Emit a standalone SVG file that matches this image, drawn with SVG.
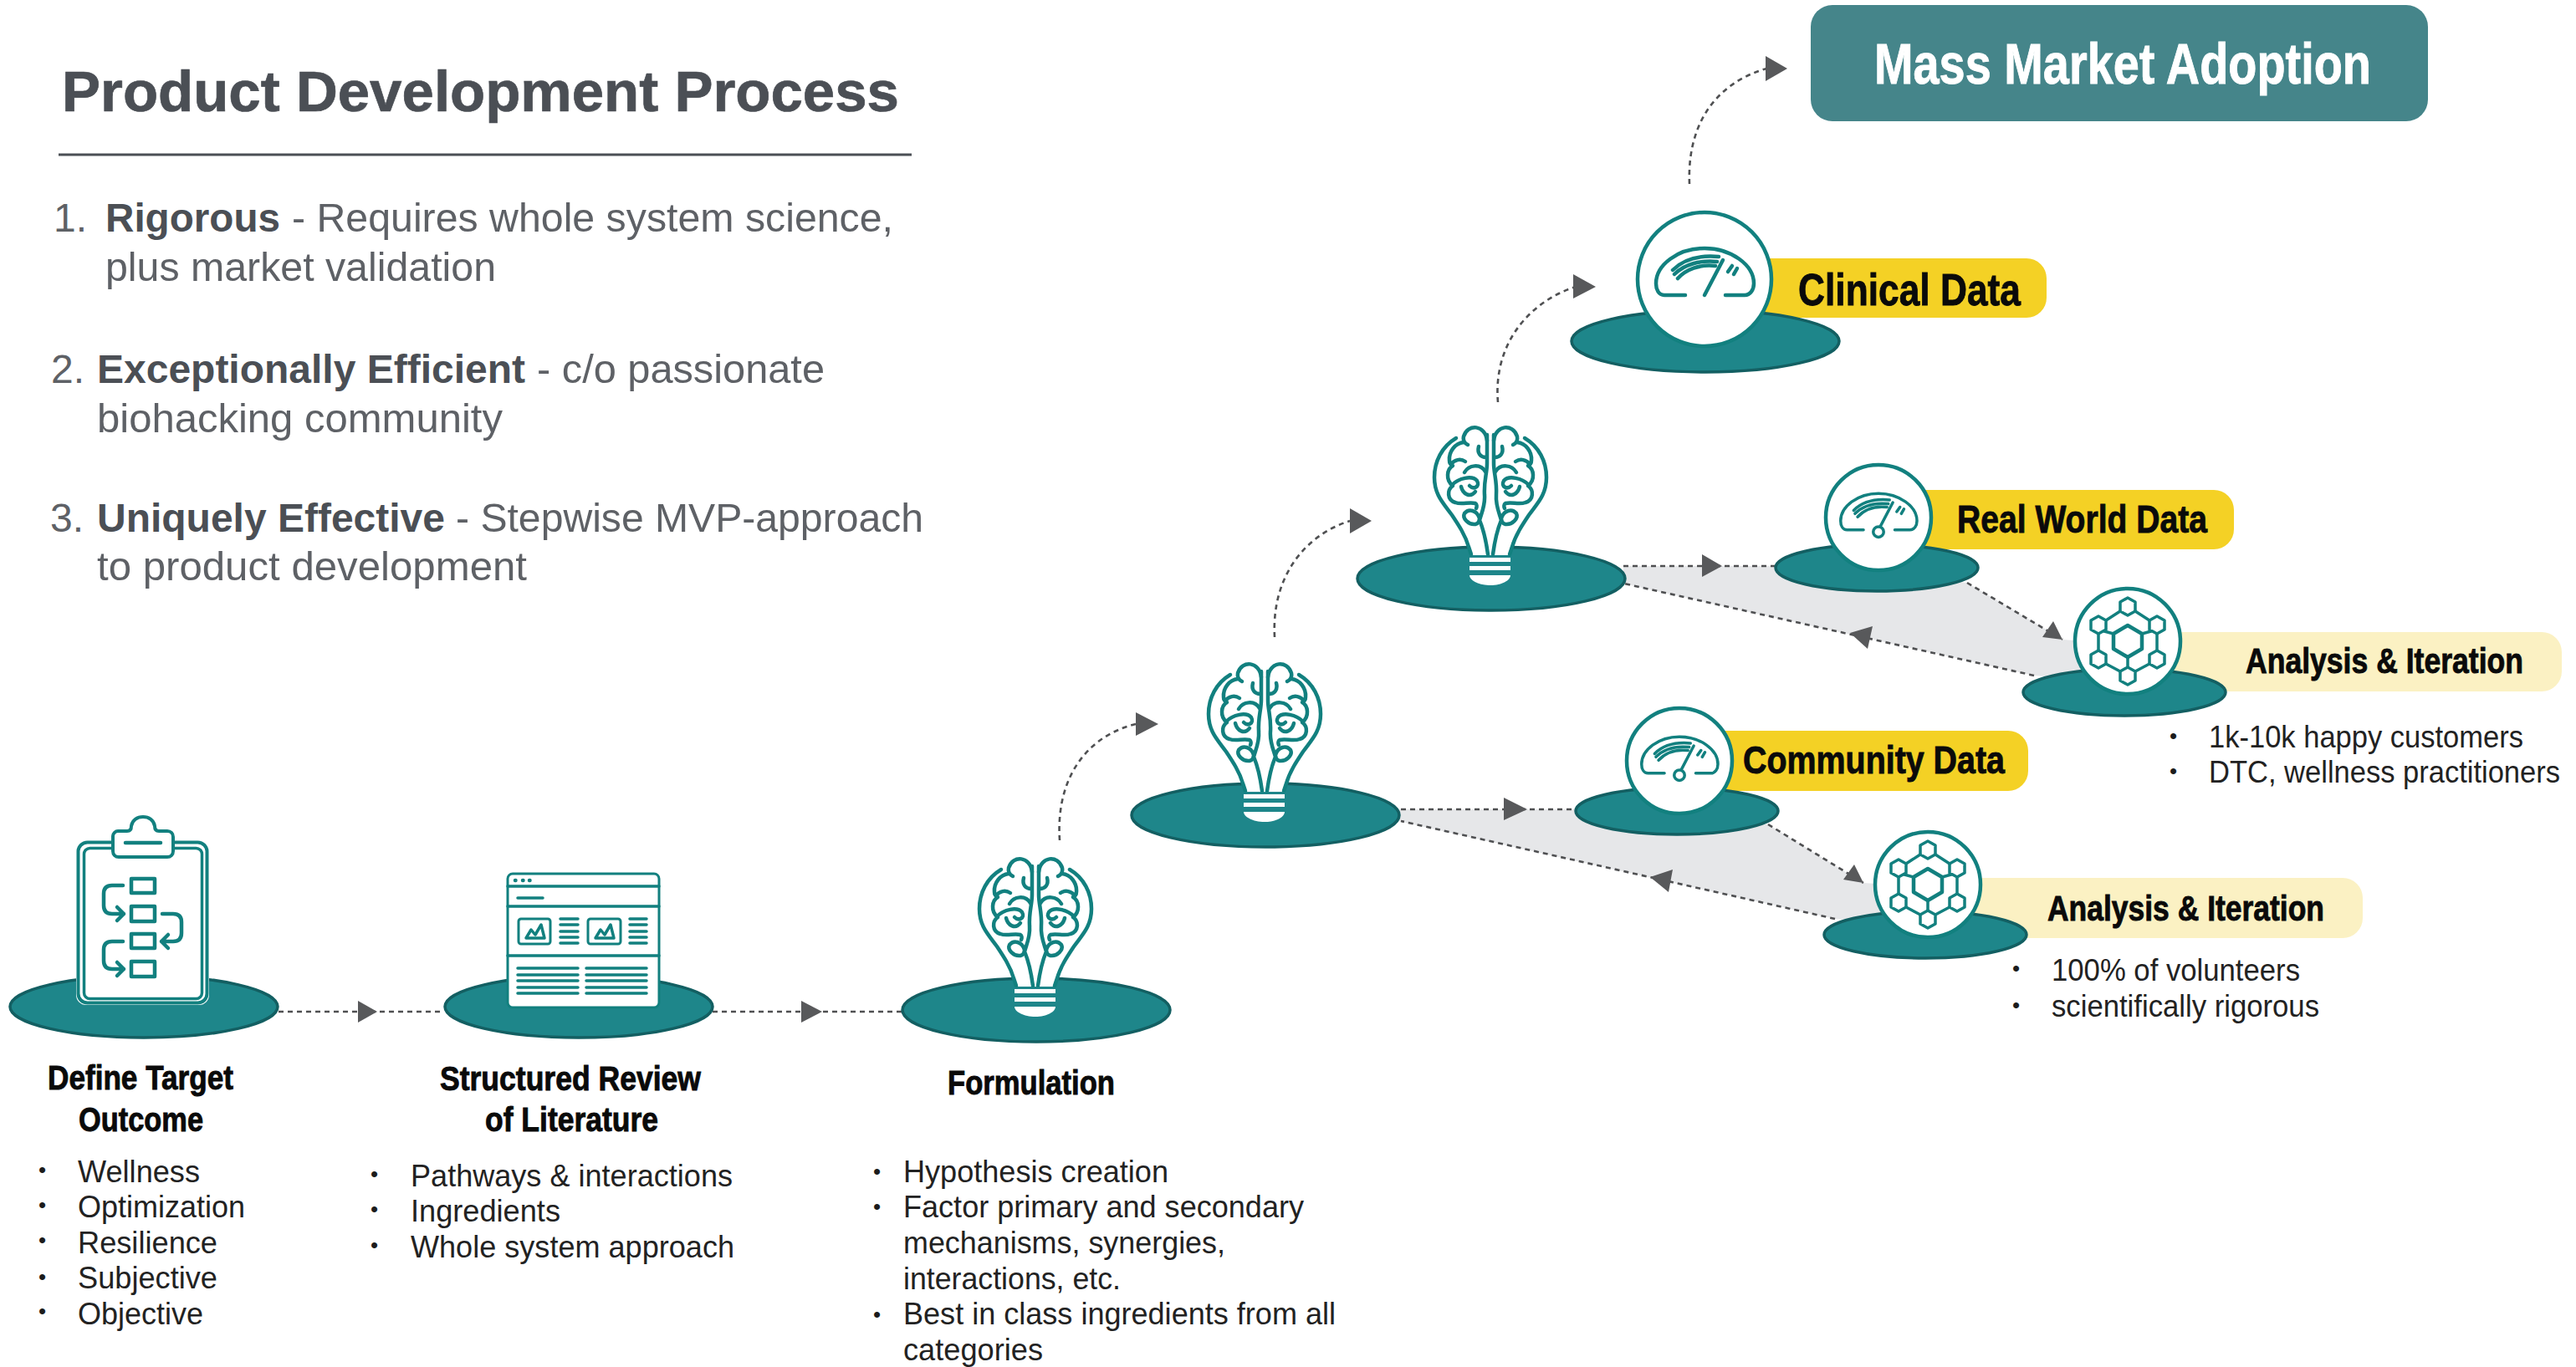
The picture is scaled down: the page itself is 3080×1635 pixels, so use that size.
<svg xmlns="http://www.w3.org/2000/svg" width="3080" height="1635" viewBox="0 0 3080 1635">
<style>
text{font-family:"Liberation Sans",Arial,sans-serif}
.h{font-weight:700;fill:#4b4f55;stroke:#4b4f55;stroke-width:.7}
.l{fill:#5e6166;font-size:48px}
.lb{fill:#4b4f55;font-size:48px;font-weight:700}
.c{font-weight:700;fill:#0a0a0a;stroke:#0a0a0a;stroke-width:.9}
.t{fill:#222;font-size:36px}
.d{fill:#1c1c1c;font-size:26px}
.dash{fill:none;stroke:#4f5052;stroke-width:2.6;stroke-dasharray:6 5}
.head{fill:#58595b}
.zone{fill:#e6e7e9}
.disc{fill:#1e868a;stroke:#135f62;stroke-width:3.500}
.ic{fill:none;stroke:#12807f;stroke-width:4.500;stroke-linecap:round;stroke-linejoin:round}
.ict{fill:none;stroke:#12807f;stroke-width:3.500;stroke-linecap:round;stroke-linejoin:round}
.face{fill:#fff;stroke:#12807f;stroke-width:4.500}
.w{fill:#fff}
</style>
<defs>
<g id="half">
<path class="ic" d="M41 -168C58 -158 67 -140 67 -121C67 -100 56 -90 46 -76C38 -64 30 -52 26 -38L23 -29"/>
<path class="ic" d="M4 -172V-138C4 -125 8 -118 7 -100C6 -88 10 -80 13 -70C8 -58 5 -44 3 -29"/>
<path class="ic" d="M4 -165C6 -184 27 -186 32 -170C33 -165 31 -162 27 -160"/>
<path class="ic" d="M32 -163C42 -162 50 -152 49 -141C49 -138 47 -136 45 -135C52 -131 54 -118 45 -111C52 -106 52 -94 42 -91C34 -88 26 -92 18 -90C16 -89 16 -86 17 -84"/>
<path class="ic" d="M30 -140C36 -144 43 -142 47 -137"/>
<path class="ic" d="M5 -145C12 -145 16 -150 14 -158"/>
<path class="ic" d="M6 -128C12 -138 26 -136 31 -127"/>
<path class="ic" d="M46 -112C38 -120 22 -124 16 -117C12 -110 20 -106 25 -111"/>
<path class="ic" d="M18 -104C24 -96 33 -101 35 -110"/>
<path class="ic" d="M13 -72C16 -82 26 -84 31 -78C34 -72 26 -64 18 -65C14 -66 13 -69 13 -72"/>
</g>
<g id="bulb">
<path class="w" d="M-41 -168C-58 -158 -67 -140 -67 -121C-67 -100 -56 -90 -46 -76C-38 -64 -30 -52 -26 -38L-23 -28H23L26 -38C30 -52 38 -64 46 -76C56 -90 67 -100 67 -121C67 -140 58 -158 41 -168L15 -185H-15Z"/>
<use href="#half"/>
<use href="#half" transform="scale(-1 1)"/>
<path class="w" d="M-25 -25H24V-20H-25ZM-25 -15H24V-10H-25ZM-25 -4H24C24 2 14 8 0 8C-14 8 -25 2 -25 -4Z"/>
</g>
<g id="dial">
<path class="ic" d="M-23 19H-48C-55 19 -58 12 -58 5C-58 -17 -32 -37 0 -37C32 -37 59 -17 59 5C59 12 55 19 48 19H25"/>
<path class="ic" d="M0 19L22 -23"/>
<path class="ic" d="M-38 -11C-25 -24 -5 -29 17 -27M-36 -6C-24 -18 -5 -23 15 -21M-32 -1C-22 -12 -6 -18 13 -16"/>
<path class="ic" d="M28 -9L33 -16M35 -6L39 -13"/>
</g>
<g id="hexes">
<path class="ic" d="M0 -19L17 -9V9L0 19L-17 9V-9Z"/>
<path class="ict" d="M0 -52L9 -47V-36L0 -31L-9 -36V-47ZM0 31L9 36V47L0 52L-9 47V36ZM35 -30L44 -25V-14L35 -9L26 -14V-25ZM-35 -30L-26 -25V-14L-35 -9L-44 -14V-25ZM35 11L44 16V27L35 32L26 27V16ZM-35 11L-26 16V27L-35 32L-44 27V16Z"/>
<path class="ict" d="M9 -36L26 -25M-9 -36L-26 -25M35 -9V11M-35 -9V11M26 27L9 36M-26 27L-9 36M0 19V31M17 -9L28 -12M-17 -9L-28 -12"/>
</g>
</defs>

<g id="heading">
<text class="h" x="74" y="133" font-size="69" textLength="1001" lengthAdjust="spacingAndGlyphs">Product Development Process</text>
<rect x="70" y="183.500" width="1020" height="3" fill="#4b4f55"/>
</g>
<g id="principles">
<text class="l" x="64" y="277">1.</text>
<text class="lb" x="126" y="277" textLength="209" lengthAdjust="spacingAndGlyphs">Rigorous</text>
<text class="l" x="349" y="277" textLength="719" lengthAdjust="spacingAndGlyphs">- Requires whole system science,</text>
<text class="l" x="126" y="336" textLength="467" lengthAdjust="spacingAndGlyphs">plus market validation</text>
<text class="l" x="61" y="458">2.</text>
<text class="lb" x="116" y="458" textLength="512" lengthAdjust="spacingAndGlyphs">Exceptionally Efficient</text>
<text class="l" x="642" y="458" textLength="344" lengthAdjust="spacingAndGlyphs">- c/o passionate</text>
<text class="l" x="116" y="517" textLength="485" lengthAdjust="spacingAndGlyphs">biohacking community</text>
<text class="l" x="60" y="636">3.</text>
<text class="lb" x="116" y="636" textLength="416" lengthAdjust="spacingAndGlyphs">Uniquely Effective</text>
<text class="l" x="545" y="636" textLength="559" lengthAdjust="spacingAndGlyphs">- Stepwise MVP-approach</text>
<text class="l" x="116" y="694" textLength="514" lengthAdjust="spacingAndGlyphs">to product development</text>
</g>

<g id="connectors">
<polygon class="zone" points="1941,677 2122,677 2352,697 2467,765 2530,770 2530,815 2432,808 1941,698"/>
<polygon class="zone" points="1672,968 1884,968 2114,986 2228,1056 2290,1060 2290,1105 2194,1099 1672,982"/>
<path class="dash" d="M333 1210H531"/>
<path class="dash" d="M852 1210H1078"/>
<path class="dash" d="M1267 1005C1262 930 1300 880 1358 866"/>
<path class="dash" d="M1524 762C1520 690 1560 640 1614 623"/>
<path class="dash" d="M1791 481C1785 410 1830 360 1884 343"/>
<path class="dash" d="M2020 220C2017 150 2050 100 2112 82"/>
<path class="dash" d="M1941 677H2122"/>
<path class="dash" d="M2352 697L2466 765"/>
<path class="dash" d="M2432 808L1942 698"/>
<path class="dash" d="M1675 968H1884"/>
<path class="dash" d="M2114 986L2228 1056"/>
<path class="dash" d="M2194 1099L1675 982"/>
<polygon class="head" points="428,1197 451,1210 428,1223"/>
<polygon class="head" points="958,1197 983,1210 958,1223"/>
<polygon class="head" points="1358,852 1385,866 1358,880"/>
<polygon class="head" points="1614,608 1640,623 1614,638"/>
<polygon class="head" points="1881,328 1908,343 1881,357"/>
<polygon class="head" points="2111,67 2137,82 2111,97"/>
<polygon class="head" points="2035,663 2059,677 2035,690"/>
<polygon class="head" points="2455,743 2442,762 2466,765"/>
<polygon class="head" points="2212,757 2239,749 2233,776"/>
<polygon class="head" points="1798,954 1826,968 1798,981"/>
<polygon class="head" points="2217,1034 2204,1052 2228,1056"/>
<polygon class="head" points="1973,1049 2000,1040 1995,1067"/>
</g>

<g id="define-target">
<ellipse class="disc" cx="172" cy="1204" rx="160" ry="37"/>
<rect class="w" x="91" y="1005" width="159" height="197" rx="12"/>
<rect x="93.500" y="1007.500" width="154" height="192" rx="11" fill="none" stroke="#12807f" stroke-width="4"/>
<rect x="100.500" y="1014.500" width="141" height="180" rx="7" fill="none" stroke="#12807f" stroke-width="3.500"/>
<path d="M141 994H152C155 994 157 992 157 988C158 981 164 977 171 977C178 977 184 981 185 988C185 992 187 994 190 994H200C204 994 207 997 207 1001V1018C207 1022 204 1025 200 1025H142C138 1025 135 1022 135 1018V1000C135 997 138 994 141 994Z" class="w" stroke="#12807f" stroke-width="4"/>
<path class="ic" d="M150 1008H192"/>
<path class="ic" d="M157 1051H185V1068H157ZM157 1084H185V1102H157ZM157 1117H185V1134H157ZM157 1150H185V1168H157Z"/>
<path class="ic" d="M147 1059H134C127 1059 124 1063 124 1069V1083C124 1089 127 1093 134 1093H148M140 1085L148 1093L140 1101"/>
<path class="ic" d="M194 1093H207C214 1093 217 1097 217 1103V1116C217 1122 214 1126 207 1126H193M201 1118L193 1126L201 1134"/>
<path class="ic" d="M147 1126H134C127 1126 124 1130 124 1136V1149C124 1155 127 1159 134 1159H148M140 1151L148 1159L140 1167"/>
<text class="c" x="57" y="1303" font-size="40" textLength="222" lengthAdjust="spacingAndGlyphs">Define Target</text>
<text class="c" x="94" y="1353" font-size="40" textLength="149" lengthAdjust="spacingAndGlyphs">Outcome</text>
<text class="d" x="46" y="1408">•</text><text class="t" x="93" y="1414" textLength="146" lengthAdjust="spacingAndGlyphs">Wellness</text>
<text class="d" x="46" y="1450">•</text><text class="t" x="93" y="1456" textLength="200" lengthAdjust="spacingAndGlyphs">Optimization</text>
<text class="d" x="46" y="1492">•</text><text class="t" x="93" y="1499" textLength="167" lengthAdjust="spacingAndGlyphs">Resilience</text>
<text class="d" x="46" y="1536">•</text><text class="t" x="93" y="1541" textLength="167" lengthAdjust="spacingAndGlyphs">Subjective</text>
<text class="d" x="46" y="1577">•</text><text class="t" x="93" y="1584" textLength="150" lengthAdjust="spacingAndGlyphs">Objective</text>
</g>

<g id="literature-review">
<ellipse class="disc" cx="692" cy="1204" rx="160" ry="37"/>
<rect x="607" y="1045" width="181" height="160" rx="6" fill="#fff" stroke="#12807f" stroke-width="3"/>
<path class="ict" d="M607 1060H788M607 1084H788M607 1143H788M619 1074H649"/>
<path class="ic" d="M616 1053h.5M625 1053h.5M633 1053h.5"/>
<rect x="620" y="1099" width="38" height="30" rx="3" fill="none" stroke="#12807f" stroke-width="3"/>
<rect x="703" y="1099" width="39" height="30" rx="3" fill="none" stroke="#12807f" stroke-width="3"/>
<path class="ict" d="M629 1122L635 1112L640 1118L647 1106L651 1122ZM712 1122L718 1112L723 1118L730 1106L734 1122Z" stroke-width="2"/>
<path class="ict" d="M670 1099H691M670 1106H691M670 1114H691M670 1121H691M670 1128H691M753 1099H773M753 1106H773M753 1114H773M753 1121H773M753 1128H773M619 1158H691M619 1166H691M619 1173H691M619 1181H691M619 1188H691M701 1158H773M701 1166H773M701 1173H773M701 1181H773M701 1188H773"/>
<text class="c" x="526" y="1304" font-size="40" textLength="312" lengthAdjust="spacingAndGlyphs">Structured Review</text>
<text class="c" x="580" y="1353" font-size="40" textLength="207" lengthAdjust="spacingAndGlyphs">of Literature</text>
<text class="d" x="443" y="1413">•</text><text class="t" x="491" y="1419" textLength="385" lengthAdjust="spacingAndGlyphs">Pathways &amp; interactions</text>
<text class="d" x="443" y="1455">•</text><text class="t" x="491" y="1461" textLength="179" lengthAdjust="spacingAndGlyphs">Ingredients</text>
<text class="d" x="443" y="1498">•</text><text class="t" x="491" y="1504" textLength="387" lengthAdjust="spacingAndGlyphs">Whole system approach</text>
</g>

<g id="formulation">
<ellipse class="disc" cx="1239" cy="1208" rx="160" ry="38"/>
<use href="#bulb" x="1238" y="1208"/>
<text class="c" x="1133" y="1309" font-size="40" textLength="200" lengthAdjust="spacingAndGlyphs">Formulation</text>
<text class="d" x="1044" y="1410">•</text><text class="t" x="1080" y="1414" textLength="317" lengthAdjust="spacingAndGlyphs">Hypothesis creation</text>
<text class="d" x="1044" y="1452">•</text><text class="t" x="1080" y="1456" textLength="479" lengthAdjust="spacingAndGlyphs">Factor primary and secondary</text>
<text class="t" x="1080" y="1499" textLength="385" lengthAdjust="spacingAndGlyphs">mechanisms, synergies,</text>
<text class="t" x="1080" y="1542" textLength="260" lengthAdjust="spacingAndGlyphs">interactions, etc.</text>
<text class="d" x="1044" y="1581">•</text><text class="t" x="1080" y="1584" textLength="517" lengthAdjust="spacingAndGlyphs">Best in class ingredients from all</text>
<text class="t" x="1080" y="1627" textLength="167" lengthAdjust="spacingAndGlyphs">categories</text>
</g>

<g id="hypothesis-two">
<ellipse class="disc" cx="1513" cy="975" rx="160" ry="38"/>
<use href="#bulb" x="1512" y="975"/>
</g>
<g id="hypothesis-three">
<ellipse class="disc" cx="1783" cy="692" rx="160" ry="38"/>
<use href="#bulb" x="1782" y="692"/>
</g>

<g id="mass-market">
<rect x="2165" y="6" width="738" height="139" rx="26" fill="#45858a"/>
<text x="2241" y="100" font-size="68" font-weight="700" fill="#fff" stroke="#fff" stroke-width=".9" textLength="594" lengthAdjust="spacingAndGlyphs">Mass Market Adoption</text>
</g>

<g id="clinical-data">
<rect x="2040" y="309" width="407" height="71" rx="24" fill="#f4d125"/>
<ellipse class="disc" cx="2039" cy="408" rx="160" ry="37"/>
<circle class="face" cx="2038" cy="334" r="80"/>
<use href="#dial" x="2038" y="334"/>
<text class="c" x="2150" y="365" font-size="54" textLength="266" lengthAdjust="spacingAndGlyphs">Clinical Data</text>
</g>

<g id="real-world-data">
<rect x="2250" y="586" width="421" height="71" rx="24" fill="#f4d125"/>
<ellipse class="disc" cx="2244" cy="679" rx="121" ry="28"/>
<circle class="face" cx="2246" cy="619" r="63"/>
<g transform="translate(2246 619) scale(.78)"><use href="#dial"/><circle cx="0" cy="22" r="8" fill="#fff" stroke="#12807f" stroke-width="4.500"/></g>
<text class="c" x="2340" y="637" font-size="46" textLength="299" lengthAdjust="spacingAndGlyphs">Real World Data</text>
</g>

<g id="analysis-one">
<rect x="2550" y="756" width="513" height="71" rx="24" fill="#fbf1c3"/>
<ellipse class="disc" cx="2540" cy="828" rx="121" ry="28"/>
<circle class="face" cx="2544" cy="767" r="63"/>
<use href="#hexes" x="2544" y="767"/>
<text class="c" x="2685" y="805" font-size="43" textLength="332" lengthAdjust="spacingAndGlyphs">Analysis &amp; Iteration</text>
<text class="d" x="2594" y="889">•</text><text class="t" x="2641" y="894" textLength="376" lengthAdjust="spacingAndGlyphs">1k-10k happy customers</text>
<text class="d" x="2594" y="931">•</text><text class="t" x="2641" y="936" textLength="420" lengthAdjust="spacingAndGlyphs">DTC, wellness practitioners</text>
</g>

<g id="community-data">
<rect x="2010" y="874" width="415" height="72" rx="24" fill="#f4d125"/>
<ellipse class="disc" cx="2005" cy="970" rx="121" ry="28"/>
<circle class="face" cx="2008" cy="910" r="63"/>
<g transform="translate(2008 910) scale(.78)"><use href="#dial"/><circle cx="0" cy="22" r="8" fill="#fff" stroke="#12807f" stroke-width="4.500"/></g>
<text class="c" x="2084" y="925" font-size="47" textLength="313" lengthAdjust="spacingAndGlyphs">Community Data</text>
</g>

<g id="analysis-two">
<rect x="2310" y="1050" width="515" height="72" rx="24" fill="#fbf1c3"/>
<ellipse class="disc" cx="2302" cy="1118" rx="121" ry="28"/>
<circle class="face" cx="2305" cy="1058" r="63"/>
<use href="#hexes" x="2305" y="1058"/>
<text class="c" x="2448" y="1101" font-size="42" textLength="331" lengthAdjust="spacingAndGlyphs">Analysis &amp; Iteration</text>
<text class="d" x="2406" y="1167">•</text><text class="t" x="2453" y="1173" textLength="297" lengthAdjust="spacingAndGlyphs">100% of volunteers</text>
<text class="d" x="2406" y="1211">•</text><text class="t" x="2453" y="1216" textLength="320" lengthAdjust="spacingAndGlyphs">scientifically rigorous</text>
</g>
</svg>
